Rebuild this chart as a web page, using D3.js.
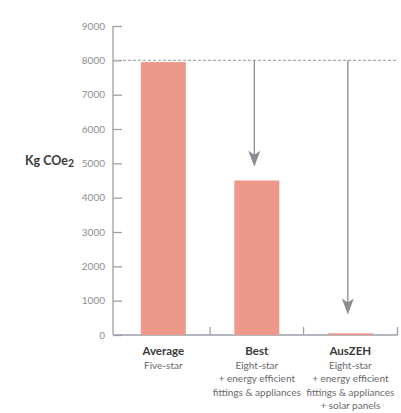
<!DOCTYPE html>
<html>
<head>
<meta charset="utf-8">
<script src="https://cdn.jsdelivr.net/npm/d3@7"></script>
<style>
  html, body { margin: 0; padding: 0; background: #fff; }
  svg { display: block; font-family: Lato, "Open Sans", sans-serif; }
</style>
</head>
<body>
<svg id="chart" width="401" height="413"></svg>
<script>
// Household emissions by house type
const categories = ["Average", "Best", "AusZEH"];
const subtitles = [
  ["Five-star"],
  ["Eight-star", "+ energy efficient", "fittings & appliances"],
  ["Eight-star", "+ energy efficient", "fittings & appliances", "+ solar panels"]
];
const emissions = [7950, 4500, 50];
const yTicks = [0, 1000, 2000, 3000, 4000, 5000, 6000, 7000, 8000, 9000];
const referenceValue = 8000;            // dashed line: average house
const arrowTargets = [null, 4900, 600]; // where each reduction arrow ends

const svg = d3.select("#chart");
const plotLeft = 113, plotRight = 397.5, plotTop = 26, plotBottom = 335;

const y = d3.scaleLinear().domain([0, 9000]).range([plotBottom, plotTop]);
const x = d3.scaleBand()
  .domain(categories)
  .range([plotLeft, plotRight])
  .paddingInner(0.519)
  .paddingOuter(0.281)
  .align(0.53);

const axisColor = "#9ba1a8";
const barColor = "#ee978b";
const arrowColor = "#8a8d91";

// y axis
const yAxis = svg.append("g")
  .attr("transform", `translate(${plotLeft},0)`)
  .call(d3.axisRight(y).tickValues(yTicks).tickSize(9).tickFormat(d3.format("d")));
yAxis.select(".domain").attr("stroke", axisColor).attr("stroke-width", 1.3)
  .attr("d", `M0,${plotTop}V${plotBottom}`);
yAxis.selectAll(".tick line").attr("stroke", axisColor).attr("stroke-width", 1.3);
yAxis.selectAll(".tick text")
  .attr("x", -8).attr("text-anchor", "end")
  .attr("fill", "#8b8f94").attr("font-size", 10).attr("font-family", "Lato, sans-serif");

// x axis baseline with separators between categories
svg.append("line")
  .attr("x1", plotLeft).attr("x2", plotRight)
  .attr("y1", plotBottom).attr("y2", plotBottom)
  .attr("stroke", axisColor).attr("stroke-width", 1.3);
const step = x.step();
const seps = categories.slice(0, -1).map(c => x(c) + x.bandwidth() + (step - x.bandwidth()) / 2);
seps.push(plotRight);
svg.selectAll(".sep").data(seps).enter().append("line")
  .attr("class", "sep")
  .attr("x1", d => d).attr("x2", d => d)
  .attr("y1", plotBottom - 8).attr("y2", plotBottom)
  .attr("stroke", axisColor).attr("stroke-width", 1.3);

// bars
svg.selectAll(".bar").data(emissions).enter().append("rect")
  .attr("class", "bar")
  .attr("x", (d, i) => x(categories[i]))
  .attr("width", x.bandwidth())
  .attr("y", d => y(d))
  .attr("height", d => plotBottom - y(d))
  .attr("fill", barColor);

// dashed reference line at the average house level
svg.append("line")
  .attr("x1", plotLeft).attr("x2", plotRight)
  .attr("y1", y(referenceValue)).attr("y2", y(referenceValue))
  .attr("stroke", "#a9abae").attr("stroke-width", 1.3)
  .attr("stroke-dasharray", "3,2");

// reduction arrows from the reference line down towards each bar
arrowTargets.forEach((t, i) => {
  if (t === null) return;
  const cx = x(categories[i]) + x.bandwidth() / 2 - 2.5;
  svg.append("line")
    .attr("x1", cx).attr("x2", cx)
    .attr("y1", y(referenceValue)).attr("y2", y(t) - 4)
    .attr("stroke", arrowColor).attr("stroke-width", 1.3);
  svg.append("path")
    .attr("transform", `translate(${cx - 6},${y(t) - 16})`)
    .attr("d", "M0,0 L6,4 L12,0 L6,16 Z")
    .attr("fill", arrowColor);
});

// category labels
categories.forEach((c, i) => {
  const cx = x(c) + x.bandwidth() / 2;
  const g = svg.append("g").attr("text-anchor", "middle");
  g.append("text")
    .attr("x", cx).attr("y", 355)
    .attr("font-size", 11.5).attr("font-weight", "bold").attr("fill", "#3a3a3a")
    .text(c);
  subtitles[i].forEach((s, j) => {
    g.append("text")
      .attr("x", cx).attr("y", 368.5 + j * 13.6)
      .attr("font-size", 10).attr("fill", "#6a6a6a")
      .text(s);
  });
});

// y axis title
const title = svg.append("text")
  .attr("x", 25).attr("y", 164.5)
  .attr("font-size", 12.5).attr("font-weight", "bold").attr("fill", "#3a3a3a");
title.append("tspan").text("Kg COe");
title.append("tspan").attr("dy", 2.5).attr("font-size", 10.5).text("2");
</script>
</body>
</html>
